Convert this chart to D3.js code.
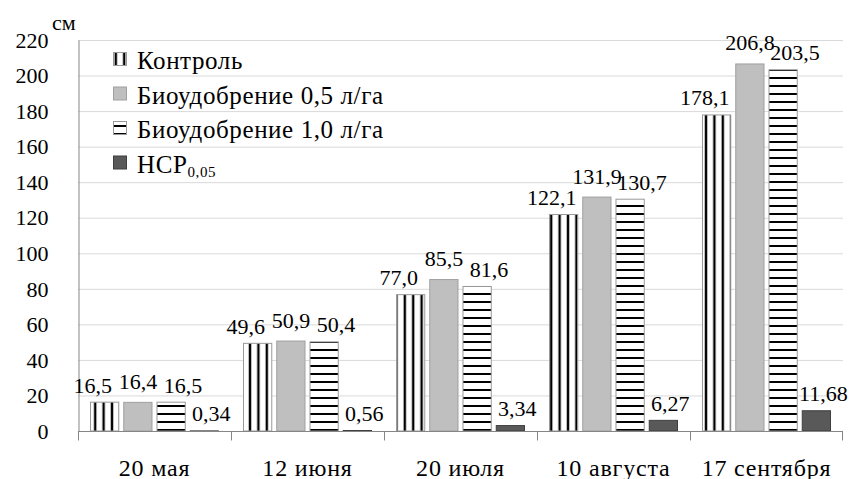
<!DOCTYPE html>
<html>
<head>
<meta charset="utf-8">
<script src="https://cdn.jsdelivr.net/npm/d3@7"></script>
<style>
  html, body { margin: 0; padding: 0; background: #fff; }
  svg { display: block; }
</style>
</head>
<body>
<svg id="chart" width="854" height="479"></svg>
<script>
// Plant height by sampling date, cm
const dates = ["20 мая", "12 июня", "20 июля", "10 августа", "17 сентября"];
const seriesNames = ["Контроль", "Биоудобрение 0,5 л/га", "Биоудобрение 1,0 л/га", "НСР"];
const control = [16.5, 49.6, 77.0, 122.1, 178.1];
const bio05 = [16.4, 50.9, 85.5, 131.9, 206.8];
const bio10 = [16.5, 50.4, 81.6, 130.7, 203.5];
const hcp = [0.34, 0.56, 3.34, 6.27, 11.68];
const yTicks = [0, 20, 40, 60, 80, 100, 120, 140, 160, 180, 200, 220];

const series = [control, bio05, bio10, hcp];
const svg = d3.select("#chart");
const plotLeft = 78, plotRight = 843, plotTop = 40, plotBottom = 431;
const serif = "'Liberation Serif', 'Tinos', 'Times New Roman', serif";

const x0 = d3.scaleBand().domain(dates).range([plotLeft, plotRight]).paddingInner(0).paddingOuter(0);
const x1 = d3.scaleBand().domain(d3.range(series.length))
  .range([12, x0.bandwidth() - 12]).paddingInner(0.12).paddingOuter(0);
const y = d3.scaleLinear().domain([0, 220]).range([plotBottom, plotTop]);

const fmt = (v, s) => (s === 3 ? v.toFixed(2) : v.toFixed(1)).replace(".", ",");

const defs = svg.append("defs");
// horizontal stripes anchored to the zero line
const hp = defs.append("pattern").attr("id", "hstripe").attr("patternUnits", "userSpaceOnUse")
  .attr("x", 0).attr("y", y(0)).attr("width", 8).attr("height", 8);
hp.append("rect").attr("width", 8).attr("height", 8).attr("fill", "#fff");
hp.append("rect").attr("y", 6).attr("width", 8).attr("height", 2.2).attr("fill", "#000");

// vertical stripes anchored to the left edge of a bar
function vstripe(id, x) {
  const p = defs.append("pattern").attr("id", id).attr("patternUnits", "userSpaceOnUse")
    .attr("x", x).attr("y", 0).attr("width", 8.4).attr("height", 8);
  p.append("rect").attr("width", 8.4).attr("height", 8).attr("fill", "#fff");
  p.append("rect").attr("x", 1.6).attr("width", 2.4).attr("height", 8).attr("fill", "#000");
}

const styles = [
  { fill: (i) => `url(#vstripe-${i})`, stroke: "#9a9a9a" },
  { fill: () => "#bfbfbf", stroke: "#a0a0a0" },
  { fill: () => "url(#hstripe)", stroke: "#9a9a9a" },
  { fill: () => "#595959", stroke: "#3f3f3f" }
];
// value labels are nudged sideways so neighbours in a group do not collide
const labelDx = [-12, 0, 12, 7];
const labelLift = [9, 13, 9, 9];

// gridlines
svg.append("g").selectAll("line").data(yTicks.filter(d => d > 0)).join("line")
  .attr("x1", plotLeft).attr("x2", plotRight)
  .attr("y1", d => y(d) + 0.5).attr("y2", d => y(d) + 0.5)
  .attr("stroke", "#d9d9d9").attr("stroke-width", 1);

// y-axis
const yAxis = svg.append("g").attr("transform", `translate(${plotLeft + 0.5},0)`)
  .call(d3.axisLeft(y).tickValues(yTicks).tickSize(0).tickPadding(30));
yAxis.attr("font-family", null).attr("font-size", null);
yAxis.select(".domain").attr("stroke", "#868686");
yAxis.selectAll("text").style("font-family", serif).style("font-size", "22px")
  .attr("fill", "#000").attr("dy", "0.33em");

// unit label
svg.append("text").attr("x", 52).attr("y", 30)
  .style("font-family", serif).style("font-size", "22px").text("см");

// bars
const groups = svg.append("g").selectAll("g").data(dates).join("g")
  .attr("transform", d => `translate(${x0(d)},0)`);

dates.forEach((d, i) => vstripe(`vstripe-${i}`, x0(d) + x1(0)));

series.forEach((vals, s) => {
  groups.append("rect")
    .attr("x", (d, i) => x1(s) + 0.5)
    .attr("y", (d, i) => y(vals[i]) + 0.5)
    .attr("width", x1.bandwidth() - 1)
    .attr("height", (d, i) => Math.max(0, y(0) - y(vals[i]) - 0.5))
    .attr("fill", (d, i) => styles[s].fill(i))
    .attr("stroke", styles[s].stroke).attr("stroke-width", 1);

  groups.append("text")
    .attr("x", (d, i) => x1(s) + x1.bandwidth() / 2 + labelDx[s])
    .attr("y", (d, i) => y(vals[i]) - labelLift[s])
    .attr("text-anchor", "middle")
    .style("font-family", serif).style("font-size", "22px")
    .text((d, i) => fmt(vals[i], s));
});

// x-axis
const xAxis = svg.append("g").attr("transform", `translate(0,${plotBottom + 0.5})`);
xAxis.append("line").attr("x1", plotLeft).attr("x2", plotRight).attr("stroke", "#868686");
xAxis.selectAll("line.tick").data(dates.concat([null])).join("line").attr("class", "tick")
  .attr("x1", (d, i) => i < dates.length ? Math.round(x0(d)) + 0.5 : plotRight - 0.5)
  .attr("x2", (d, i) => i < dates.length ? Math.round(x0(d)) + 0.5 : plotRight - 0.5)
  .attr("y1", 0).attr("y2", 9).attr("stroke", "#868686");
xAxis.selectAll("text").data(dates).join("text")
  .attr("x", d => x0(d) + x0.bandwidth() / 2).attr("y", 44)
  .attr("text-anchor", "middle")
  .style("font-family", serif).style("font-size", "24px").style("letter-spacing", "0.8px")
  .text(d => d);

// legend
const legend = svg.append("g");
vstripe("vstripe-legend", 113);
seriesNames.forEach((name, s) => {
  const base = 69 + 34.5 * s;
  legend.append("rect").attr("x", 113.5).attr("y", base - 16.5).attr("width", 13).attr("height", 13)
    .attr("fill", s === 0 ? "url(#vstripe-legend)" : styles[s].fill(0))
    .attr("stroke", styles[s].stroke);
  const t = legend.append("text").attr("x", 137).attr("y", base)
    .style("font-family", serif).style("font-size", "25px").style("letter-spacing", "0.6px")
    .text(name);
  if (s === 3) {
    t.append("tspan").style("font-size", "15px").attr("dy", 4).text("0,05");
  }
});
</script>
</body>
</html>
